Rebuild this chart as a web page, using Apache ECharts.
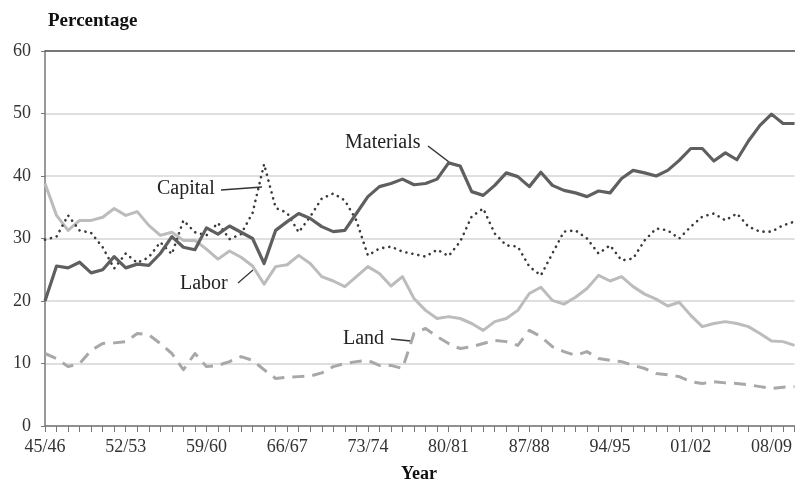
<!DOCTYPE html>
<html>
<head>
<meta charset="utf-8">
<script src="https://cdn.jsdelivr.net/npm/echarts@6/dist/echarts.min.js"></script>
<style>
html,body{margin:0;padding:0;background:#fff;}
#chart{width:795px;height:481px;}
</style>
</head>
<body>
<div id="chart"></div>
<script>
// Years 1945/46 .. 2010/11
const startYear = 1945;
const nYears = 66;
const categories = [];
for (let i = 0; i < nYears; i++) {
  const a = (startYear + i) % 100, b = (startYear + i + 1) % 100;
  categories.push(String(a).padStart(2, '0') + '/' + String(b).padStart(2, '0'));
}

const materials = [20.0,25.6,25.3,26.2,24.5,25.0,27.1,25.3,25.9,25.7,27.6,30.3,28.6,28.2,31.7,30.7,32.0,31.0,30.0,26.0,
  31.3,32.7,34.0,33.2,31.9,31.1,31.3,34.0,36.7,38.3,38.8,39.5,38.6,38.8,39.5,42.1,41.6,37.5,36.9,38.5,
  40.5,39.9,38.3,40.6,38.5,37.7,37.3,36.7,37.6,37.3,39.6,40.9,40.5,40.0,40.9,42.5,44.4,44.4,42.4,43.7,
  42.6,45.6,48.1,49.9,48.4,48.4];

const labor = [38.8,33.7,31.3,32.9,32.9,33.4,34.8,33.7,34.3,32.1,30.5,31.0,29.7,29.7,28.3,26.7,28.0,27.0,25.6,22.7,
  25.5,25.8,27.3,26.0,23.9,23.2,22.3,23.9,25.5,24.4,22.4,23.9,20.4,18.5,17.2,17.5,17.2,16.4,15.3,16.7,
  17.2,18.5,21.2,22.2,20.1,19.5,20.6,22.0,24.1,23.2,23.9,22.3,21.1,20.3,19.2,19.8,17.7,15.9,16.4,16.7,
  16.4,15.9,14.8,13.6,13.5,12.9];

const capital = [29.8,30.3,33.7,31.3,30.9,28.6,25.2,27.6,26.1,27.0,29.4,27.5,32.9,31.0,30.5,32.5,29.9,30.7,34.1,41.9,
  34.9,34.1,31.0,33.5,36.4,37.2,36.1,32.9,27.3,28.4,28.7,27.9,27.5,27.1,28.2,27.2,29.5,33.5,34.8,30.8,
  28.9,28.7,25.5,24.1,27.6,31.1,31.3,30.0,27.6,28.9,26.5,26.8,29.7,31.6,31.3,30.0,31.9,33.5,34.0,32.9,
  34.0,31.9,31.1,31.1,32.1,32.7];

const land = [11.6,10.8,9.5,10.0,12.1,13.2,13.3,13.5,14.8,14.6,13.2,11.6,9.0,11.6,9.5,9.7,10.3,11.1,10.5,9.0,
  7.6,7.8,7.9,8.0,8.5,9.5,10.0,10.3,10.5,9.7,9.7,9.2,14.8,15.6,14.3,13.2,12.4,12.7,13.2,13.7,
  13.5,12.9,15.3,14.3,12.7,11.9,11.3,11.9,10.8,10.5,10.3,9.7,9.2,8.4,8.2,7.9,7.1,6.8,7.1,6.9,
  6.8,6.6,6.3,6.0,6.2,6.3];

const yTicks = [0, 10, 20, 30, 40, 50, 60];

const serif = '"Liberation Serif", "DejaVu Serif", serif';
const chart = echarts.init(document.getElementById('chart'));

function lineItem(data, color, width, type, cap) {
  return {
    type: 'line', data: data, symbol: 'none', smooth: false, animation: false,
    lineStyle: { color: color, width: width, type: type, cap: cap || 'butt', join: 'round' },
    z: 3
  };
}

chart.setOption({
  backgroundColor: '#fff',
  animation: false,
  grid: { left: 45, right: 0, top: 51, bottom: 55 },
  xAxis: [{
    type: 'category', data: categories, boundaryGap: false,
    axisLine: { lineStyle: { color: '#777', width: 1.5 } },
    axisTick: { show: true, interval: 0, length: 6, lineStyle: { color: '#777' } },
    axisLabel: { interval: 6, color: '#333', fontFamily: serif, fontSize: 18, margin: 12 },
    splitLine: { show: false }
  }, {
    type: 'category', data: categories, boundaryGap: false, position: 'top',
    axisLine: { show: true, lineStyle: { color: '#555', width: 1.5 } },
    axisTick: { show: false }, axisLabel: { show: false }
  }],
  yAxis: {
    type: 'value', min: yTicks[0], max: yTicks[yTicks.length - 1], interval: 10,
    axisLine: { show: true, lineStyle: { color: '#777', width: 1.5 } },
    axisTick: { show: true, length: 4, lineStyle: { color: '#777' } },
    axisLabel: { color: '#333', fontFamily: serif, fontSize: 18, margin: 14 },
    splitLine: { lineStyle: { color: '#d4d4d4', width: 1.5 } }
  },
  series: [
    lineItem(land, '#a8a8a8', 3, [12, 8]),
    lineItem(labor, '#bcbcbc', 3, 'solid'),
    lineItem(capital, '#3a3a3a', 2.6, [0.1, 6], 'round'),
    lineItem(materials, '#5f5f5f', 3.2, 'solid')
  ],
  graphic: [
    { type: 'text', x: 48, y: 21, style: { text: 'Percentage', font: 'bold 19px ' + serif, fill: '#111', textVerticalAlign: 'middle' } },
    { type: 'text', x: 401, y: 474, style: { text: 'Year', font: 'bold 18px ' + serif, fill: '#111', textVerticalAlign: 'middle' } },
    { type: 'text', x: 345, y: 143, style: { text: 'Materials', font: '20px ' + serif, fill: '#222', textVerticalAlign: 'middle' } },
    { type: 'line', shape: { x1: 428, y1: 146, x2: 449, y2: 162 }, style: { stroke: '#333', lineWidth: 1.5 } },
    { type: 'text', x: 157, y: 189, style: { text: 'Capital', font: '20px ' + serif, fill: '#222', textVerticalAlign: 'middle' } },
    { type: 'line', shape: { x1: 221, y1: 190, x2: 262, y2: 187 }, style: { stroke: '#333', lineWidth: 1.5 } },
    { type: 'text', x: 180, y: 284, style: { text: 'Labor', font: '20px ' + serif, fill: '#222', textVerticalAlign: 'middle' } },
    { type: 'line', shape: { x1: 238, y1: 283, x2: 253, y2: 270 }, style: { stroke: '#333', lineWidth: 1.2 } },
    { type: 'text', x: 343, y: 339, style: { text: 'Land', font: '20px ' + serif, fill: '#222', textVerticalAlign: 'middle' } },
    { type: 'line', shape: { x1: 391, y1: 339, x2: 411, y2: 341 }, style: { stroke: '#333', lineWidth: 1.5 } }
  ]
});
</script>
</body>
</html>
